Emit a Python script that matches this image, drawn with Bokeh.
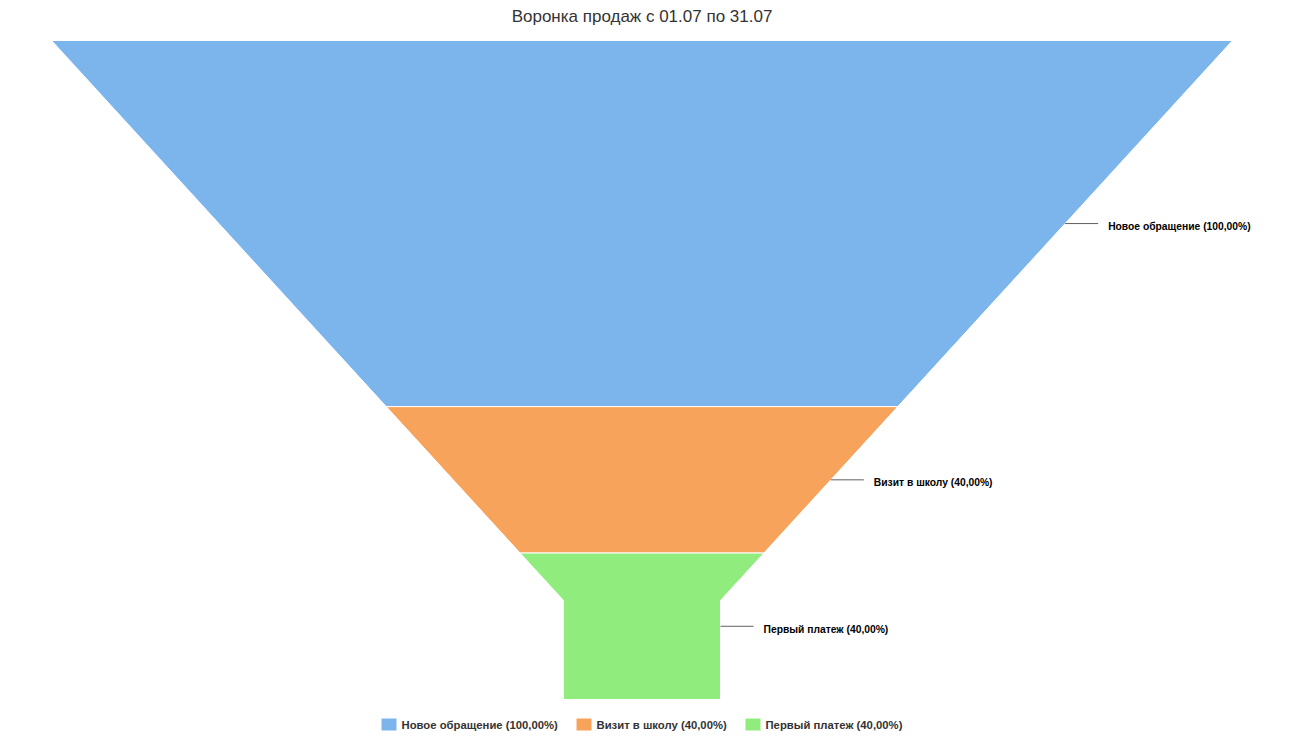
from bokeh.plotting import figure
from bokeh.models import Range1d
from bokeh.core.properties import value
from bokeh.embed import file_html
from bokeh.resources import INLINE

# ---- data ----
title_text = "Воронка продаж с 01.07 по 31.07"
stages = ["Новое обращение", "Визит в школу", "Первый платеж"]
values = [100, 40, 40]
colors = ["#7cb5ec", "#f7a35c", "#90ed7d"]

# ---- layout (screen-like coords, y downwards) ----
W, H = 1311, 739
cx = 641.5
top_y, bot_y = 40.0, 699.0
top_w, neck_w = 1181.0, 157.0
neck_y = 600.0

def half_w(y):
    if y >= neck_y:
        return neck_w / 2
    return (top_w - (y - top_y) * (top_w - neck_w) / (neck_y - top_y)) / 2

total = float(sum(values))
labels = ["%s (%s%%)" % (s, ("%.2f" % (v / values[0] * 100)).replace(".", ",")) for s, v in zip(stages, values)]

xs, ys = [], []
lab_x, lab_y, ln_x0, ln_x1, ln_y = [], [], [], [], []
cur = top_y
for v in values:
    h = v / total * (bot_y - top_y)
    y0, y1 = cur, cur + h
    pts_y = [y0]
    if y0 < neck_y < y1:
        pts_y.append(neck_y)
    pts_y.append(y1)
    right = [(cx + half_w(y), y) for y in pts_y]
    left = [(cx - half_w(y), y) for y in reversed(pts_y)]
    poly = right + left
    xs.append([p[0] for p in poly])
    ys.append([p[1] for p in poly])
    my = (y0 + y1) / 2
    ex = cx + half_w(my)
    ln_x0.append(ex)
    ln_x1.append(ex + 33)
    ln_y.append(my)
    lab_x.append(ex + 43)
    lab_y.append(my + 3)
    cur = y1

p = figure(width=W, height=H, output_backend="svg", toolbar_location=None,
           x_range=Range1d(0, W), y_range=Range1d(H, 0),
           min_border=0, min_border_left=0, min_border_right=0,
           min_border_top=0, min_border_bottom=0)
p.axis.visible = False
p.grid.visible = False
p.outline_line_color = None
p.background_fill_color = "white"
p.border_fill_color = "white"

p.patches(xs, ys, fill_color=colors, line_color="white", line_width=1)

p.segment(x0=ln_x0, y0=ln_y, x1=ln_x1, y1=ln_y, line_color="#606060", line_width=1)
p.text(x=lab_x, y=lab_y, text=labels, text_font=value("Liberation Sans"),
       text_font_size="10.3px", text_font_style="bold", text_color="#000000",
       text_baseline="middle", text_align="left")

p.text(x=[cx], y=[16], text=[title_text], text_font=value("Liberation Sans"),
       text_font_size="17px", text_color="#333333", text_baseline="middle", text_align="center")

# legend
leg_sq_x = [381, 576, 745]
leg_y = 724
p.rect(x=[x + 7.5 for x in leg_sq_x], y=[leg_y] * 3, width=15, height=12,
       fill_color=colors, line_color=None)
p.text(x=[x + 20 for x in leg_sq_x], y=[leg_y] * 3, text=labels, text_font=value("Liberation Sans"),
       text_font_size="11.3px", text_font_style="bold", text_color="#333333",
       text_baseline="middle", text_align="left")

open("out.html", "w").write(file_html(p, INLINE))
